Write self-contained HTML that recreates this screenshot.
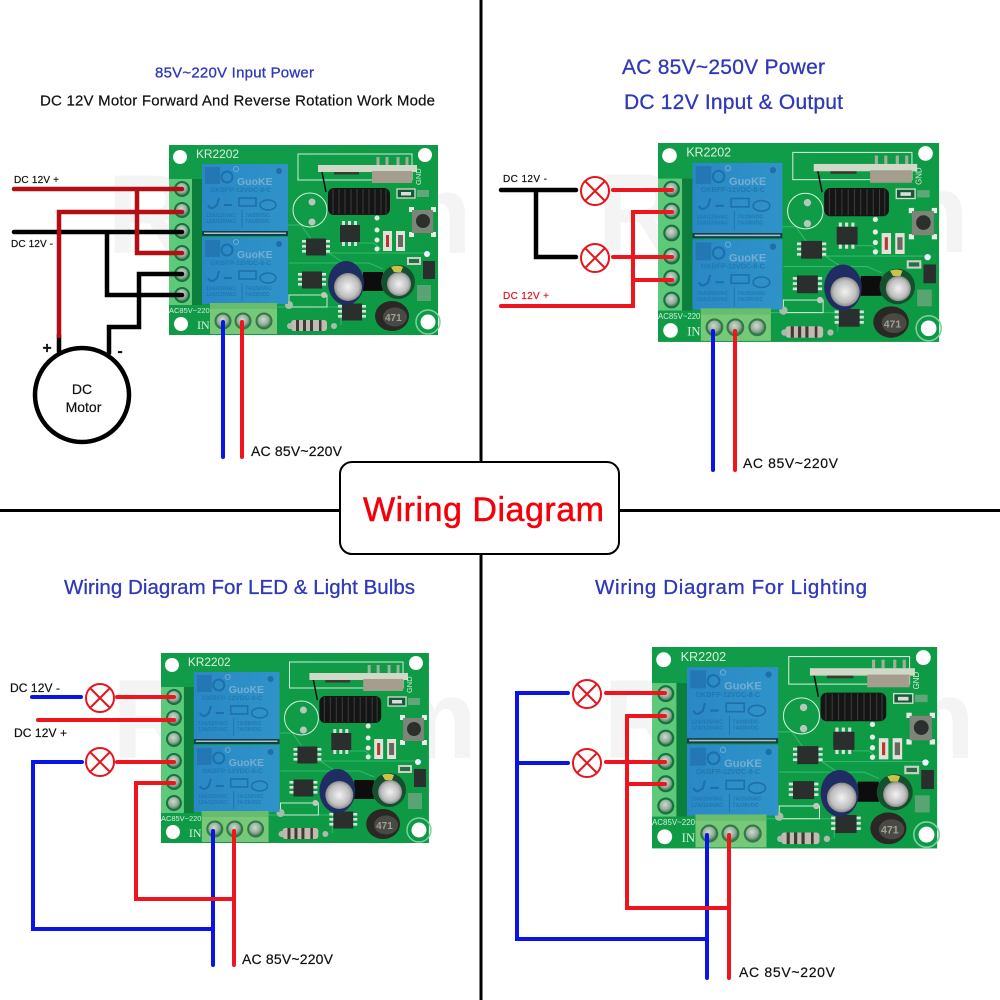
<!DOCTYPE html>
<html><head><meta charset="utf-8"><style>
html,body{margin:0;padding:0;background:#fff}
svg{display:block}
text{font-family:"Liberation Sans",sans-serif}
.b{fill:#2f39b8;stroke:#2f39b8;stroke-width:.3}
.k{fill:#111;stroke:#111;stroke-width:.2}
.w{fill:none;stroke-linecap:round;stroke-linejoin:miter}
.dr{stroke:#b50d14;stroke-width:4.5}
.bk{stroke:#000;stroke-width:4.5}
.rd{stroke:#f0141e;stroke-width:4}
.bl{stroke:#0a14e6;stroke-width:4}
.wm{fill:#f4f4f4;font-size:112px;font-weight:bold}
.bt{fill:#dcefdf;font-size:12px}
.gk{fill:#74aed0;font-size:10.500px;font-weight:bold}
.rt{fill:#2279b0;font-size:6.800px;font-weight:bold}
.rs{fill:#2279b0;font-size:5.200px;font-weight:bold}
</style></head><body>
<svg width="1000" height="1000" viewBox="0 0 1000 1000" xmlns="http://www.w3.org/2000/svg">
<defs>
<radialGradient id="sc" cx=".45" cy=".4" r=".6"><stop offset="0" stop-color="#ccdccc"/><stop offset=".6" stop-color="#93ab9a"/><stop offset="1" stop-color="#2f6a42"/></radialGradient>
<radialGradient id="cap" cx=".5" cy=".5" r=".5"><stop offset="0" stop-color="#f2f2f2"/><stop offset=".75" stop-color="#bdbdbd"/><stop offset="1" stop-color="#8a8a8a"/></radialGradient>
<linearGradient id="pcb" x1="0" y1="0" x2="1" y2="1"><stop offset="0" stop-color="#119c49"/><stop offset="1" stop-color="#0d9a44"/></linearGradient>
<linearGradient id="rl" x1="0" y1="0" x2="1" y2="0"><stop offset="0" stop-color="#2a88c6"/><stop offset="1" stop-color="#2f93c9"/></linearGradient>
<g id="chip"><rect x="-10" y="-8.500" width="20" height="17" fill="#2a2f2d"/><g fill="#d8e0dc"><rect x="-14" y="-7" width="4" height="2.600"/><rect x="-14" y="-2" width="4" height="2.600"/><rect x="-14" y="3" width="4" height="2.600"/><rect x="10" y="-7" width="4" height="2.600"/><rect x="10" y="-2" width="4" height="2.600"/><rect x="10" y="3" width="4" height="2.600"/></g></g>
<g id="rly"><rect x="0" y="0" width="86" height="67" fill="url(#rl)"/>
<rect x="3" y="3" width="15" height="17" fill="#2378b4"/><circle cx="25" cy="13" r="5.500" fill="none" stroke="#1f6fa8" stroke-width="2"/><circle cx="34" cy="5" r="2.500" fill="none" stroke="#68add3" stroke-width="1"/>
<circle cx="77" cy="7" r="3" fill="#1f6fa8"/>
<path d="M6 41q3 6 9 0l2-7M22 41h8" fill="none" stroke="#1f6fa8" stroke-width="2"/>
<rect x="37" y="34" width="17" height="8" fill="none" stroke="#1f6fa8" stroke-width="1.500"/><ellipse cx="66" cy="41" rx="8" ry="5" fill="none" stroke="#1f6fa8" stroke-width="1.500"/>
<path d="M40 46V64" stroke="#1f6fa8" stroke-width=".8"/></g>
<symbol id="board" viewBox="0 0 269 190" width="269" height="190" overflow="visible">
<rect x="0" y="0" width="269" height="190" fill="url(#pcb)"/>
<circle cx="11" cy="12" r="7" fill="#fff"/><circle cx="256" cy="10" r="7" fill="#fff"/><circle cx="12" cy="179" r="7" fill="#fff"/>
<circle cx="259" cy="177" r="12" fill="none" stroke="#7fd0a0" stroke-width="1.500"/><circle cx="259" cy="177" r="7.500" fill="#fff"/>
<path d="M118 80H132L152 108H262M120 118H200L214 124M90 162H172V180M160 108L175 118M190 98H205L212 104" fill="none" stroke="#34b86f" stroke-width="1"/>
<rect x="129" y="9" width="114" height="26" fill="none" stroke="#cfecd9" stroke-width="1"/>
<g fill="#9fb09c"><rect x="207.500" y="12" width="3" height="8"/><rect x="216.500" y="12" width="3" height="8"/><rect x="227.500" y="12" width="3" height="8"/><rect x="236.500" y="12" width="3" height="8"/></g>
<rect x="149" y="20" width="99" height="7" fill="#cfd9c6"/>
<rect x="165" y="27" width="25" height="2.500" fill="#3a3a34"/>
<rect x="203" y="26" width="40" height="12" fill="#a59e8e"/>
<path d="M153 27L157 47" stroke="#111" stroke-width="1.500"/>
<rect x="159" y="43" width="62" height="27" rx="6" fill="#151515"/>
<g stroke="#3d3d3d" stroke-width="1"><path d="M164 44V69M170 44V69M176 44V69M182 44V69M188 44V69M194 44V69M200 44V69M206 44V69M212 44V69M217 44V69"/></g>
<circle cx="141" cy="65" r="17" fill="none" stroke="#d6f0df" stroke-width="1"/><circle cx="143" cy="57" r="3.500" fill="#b7c7bb"/><circle cx="143" cy="77" r="3.500" fill="#b7c7bb"/>
<rect x="228" y="44" width="18" height="9" fill="#155b35" stroke="#d2ddd2" stroke-width="1.300"/><rect x="232" y="47" width="10" height="3.500" fill="#dcdcdc"/><rect x="248" y="45" width="12" height="7" fill="#5fa678"/>
<g fill="#e6ece6"><rect x="240" y="62" width="5" height="5"/><rect x="262" y="62" width="5" height="5"/><rect x="240" y="87" width="5" height="5"/><rect x="262" y="87" width="5" height="5"/></g>
<rect x="243" y="65" width="21" height="23" fill="#7d8478"/><circle cx="254" cy="76" r="7" fill="#2c302d"/>
<g fill="#d8e0dc"><rect x="173" y="76" width="3" height="4"/><rect x="179" y="76" width="3" height="4"/><rect x="185" y="76" width="3" height="4"/><rect x="173" y="97" width="3" height="4"/><rect x="179" y="97" width="3" height="4"/><rect x="185" y="97" width="3" height="4"/></g>
<rect x="171" y="80" width="20" height="17" fill="#2a2f2d"/>
<use href="#chip" x="147" y="102"/>
<g fill="#e2ece4"><circle cx="208" cy="73" r="2.500"/><circle cx="208" cy="85" r="2.500"/><circle cx="208" cy="95" r="2.500"/><circle cx="208" cy="104" r="2.500"/></g>
<rect x="214" y="86" width="9" height="20" fill="#dfe3da"/><rect x="217" y="90" width="3" height="12" fill="#b8382e"/>
<rect x="227" y="86" width="9" height="20" fill="#dfe3da"/><rect x="229" y="90" width="5" height="12" fill="#6b665e"/>
<rect x="254" y="116" width="12" height="18" fill="#2a2f2d"/><rect x="238" y="112" width="14" height="8" fill="#c9d2c4"/><rect x="240" y="114" width="10" height="4" fill="#2c6b47"/>
<rect x="248" y="140" width="14" height="16" fill="#5aa473"/><circle cx="258" cy="109" r="3" fill="#eef"/>
<use href="#chip" x="143" y="135"/><use href="#chip" x="183" y="167"/>
<rect x="194" y="127" width="20" height="19" fill="#0d0d0d"/>
<ellipse cx="177" cy="138" rx="18" ry="22" fill="#1f2d63"/><ellipse cx="179" cy="142" rx="14" ry="14" fill="url(#cap)"/>
<circle cx="229" cy="137" r="17" fill="#14502e"/><path d="M222 122a16 16 0 0 1 12 0l-2 5h-7z" fill="#c9c34a"/><circle cx="230" cy="139" r="12" fill="url(#cap)"/>
<ellipse cx="223" cy="171" rx="17" ry="15" fill="#2a2724"/><ellipse cx="226" cy="172" rx="12" ry="9.500" fill="#4a4a45"/><text x="216" y="176" font-size="10" font-weight="bold" fill="#a0a098" style="font-family:'Liberation Sans',sans-serif">471</text>
<rect x="122" y="175" width="36" height="11" rx="3" fill="#c2bbb0"/><g fill="#3e3a37"><rect x="127" y="175" width="3" height="11"/><rect x="134" y="175" width="3" height="11"/><rect x="141" y="175" width="3" height="11"/><rect x="150" y="175" width="2.500" height="11"/></g><circle cx="121" cy="181" r="3" fill="#aebaaf"/><circle cx="165" cy="181" r="3" fill="#aebaaf"/>
<rect x="120" y="150" width="38" height="12" fill="none" stroke="#cfe9d8" stroke-width="1"/><circle cx="120" cy="160" r="4" fill="#a8bdaa"/><circle cx="155" cy="150" r="3" fill="#c1c8bf"/>
<rect x="23" y="34" width="10" height="126" fill="#0d7f3c"/>
<use href="#rly" x="33" y="19"/><use href="#rly" x="33" y="92"/>
<rect x="33" y="86" width="86" height="5" fill="#123f4a"/><rect x="35" y="87.500" width="82" height="1.500" fill="#a9bdc4"/>
<rect x="0" y="34" width="23" height="126" fill="#5ec97b"/>
<g stroke="#13743d" stroke-width="2" fill="url(#sc)"><circle cx="13" cy="44" r="7"/><circle cx="13" cy="65" r="7"/><circle cx="13" cy="86" r="7"/><circle cx="13" cy="108" r="7"/><circle cx="13" cy="129" r="7"/><circle cx="13" cy="150" r="7"/></g>
<rect x="41" y="158" width="67" height="31" fill="#77c878"/><rect x="41" y="158" width="67" height="6" fill="#68bd6c"/>
<g stroke="#2f7a45" stroke-width="2" fill="url(#sc)"><circle cx="54" cy="176" r="7.500"/><circle cx="74" cy="176" r="7.500"/><circle cx="95" cy="176" r="7.500"/></g>
</symbol>
</defs>
<rect width="1000" height="1000" fill="#fff"/>

<text class="wm" x="107" y="253" textLength="365" lengthAdjust="spacing">Rilem</text>
<text class="wm" x="597" y="252" textLength="372" lengthAdjust="spacing">Rilem</text>
<text class="wm" x="112" y="758" textLength="365" lengthAdjust="spacing">Rilem</text>
<text class="wm" x="603" y="758" textLength="372" lengthAdjust="spacing">Rilem</text>

<path d="M481 0V462M481 554V1000M0 510.500H340M620 510.500H1000" stroke="#000" stroke-width="3" fill="none"/>
<rect x="340" y="462" width="279" height="92" rx="12" fill="#fff" stroke="#000" stroke-width="2"/>
<text x="363" y="521" font-size="34" fill="#f5000a" stroke="#f5000a" stroke-width=".5" textLength="241" lengthAdjust="spacing">Wiring Diagram</text>

<text class="b" x="155" y="77.500" font-size="15" textLength="159" lengthAdjust="spacing">85V~220V Input Power</text>
<text class="k" x="40" y="105.500" font-size="15" textLength="395" lengthAdjust="spacing">DC 12V Motor Forward And Reverse Rotation Work Mode</text>
<text class="b" x="622" y="74" font-size="21" textLength="203" lengthAdjust="spacing">AC 85V~250V Power</text>
<text class="b" x="624" y="109" font-size="21" textLength="219" lengthAdjust="spacing">DC 12V Input &amp; Output</text>
<text class="b" x="64" y="594" font-size="20.500" textLength="351" lengthAdjust="spacing">Wiring Diagram For LED &amp; Light Bulbs</text>
<text class="b" x="595" y="594" font-size="20.500" textLength="272" lengthAdjust="spacing">Wiring Diagram For Lighting</text>

<!-- TL board -->
<g transform="translate(169 145)"><use href="#board"/>
<text class="bt" x="27" y="13" textLength="43" lengthAdjust="spacing">KR2202</text><text class="bt" x="28" y="184" style="font-family:'Liberation Serif',serif">IN</text><text x="0" y="168" font-size="7.500" fill="#d8ecd8">AC85V~220</text>
<text class="gk" x="68" y="40">GuoKE</text><text class="rt" x="41" y="47">GKBFP-12VDC-8-C</text><text class="rs" x="37" y="72">12A/125VAC</text><text class="rs" x="76" y="72">7A/28VDC</text><text class="rs" x="37" y="78">12A/125VAC</text><text class="rs" x="76" y="78">7A/28VDC</text>
<text class="gk" x="68" y="113">GuoKE</text><text class="rt" x="41" y="120">GKBFP-12VDC-8-C</text><text class="rs" x="37" y="145">10A/250VAC</text><text class="rs" x="76" y="145">7A/250VAC</text><text class="rs" x="37" y="151">12A/125VAC</text><text class="rs" x="76" y="151">7A/28VDC</text>
<text x="252" y="40" font-size="7.500" fill="#d8ecd8" transform="rotate(-90 252 40)">GND</text></g>
<!-- TR board -->
<g transform="translate(658 143) scale(1.045 1.047)"><use href="#board"/>
<text class="bt" x="27" y="13" textLength="43" lengthAdjust="spacing">KR2202</text><text class="bt" x="28" y="184" style="font-family:'Liberation Serif',serif">IN</text><text x="0" y="168" font-size="7.500" fill="#d8ecd8">AC85V~220</text>
<text class="gk" x="68" y="40">GuoKE</text><text class="rt" x="41" y="47">GKBFP-12VDC-8-C</text><text class="rs" x="37" y="72">12A/125VAC</text><text class="rs" x="76" y="72">7A/28VDC</text><text class="rs" x="37" y="78">12A/125VAC</text><text class="rs" x="76" y="78">7A/28VDC</text>
<text class="gk" x="68" y="113">GuoKE</text><text class="rt" x="41" y="120">GKBFP-12VDC-8-C</text><text class="rs" x="37" y="145">10A/250VAC</text><text class="rs" x="76" y="145">7A/250VAC</text><text class="rs" x="37" y="151">12A/125VAC</text><text class="rs" x="76" y="151">7A/28VDC</text>
<text x="252" y="40" font-size="7.500" fill="#d8ecd8" transform="rotate(-90 252 40)">GND</text></g>
<!-- BL board -->
<g transform="translate(161 653) scale(.996 1)"><use href="#board"/>
<text class="bt" x="27" y="13" textLength="43" lengthAdjust="spacing">KR2202</text><text class="bt" x="28" y="184" style="font-family:'Liberation Serif',serif">IN</text><text x="0" y="168" font-size="7.500" fill="#d8ecd8">AC85V~220</text>
<text class="gk" x="68" y="40">GuoKE</text><text class="rt" x="41" y="47">GKBFP-12VDC-8-C</text><text class="rs" x="37" y="72">12A/125VAC</text><text class="rs" x="76" y="72">7A/28VDC</text><text class="rs" x="37" y="78">12A/125VAC</text><text class="rs" x="76" y="78">7A/28VDC</text>
<text class="gk" x="68" y="113">GuoKE</text><text class="rt" x="41" y="120">GKBFP-12VDC-8-C</text><text class="rs" x="37" y="145">10A/250VAC</text><text class="rs" x="76" y="145">7A/250VAC</text><text class="rs" x="37" y="151">12A/125VAC</text><text class="rs" x="76" y="151">7A/28VDC</text>
<text x="252" y="40" font-size="7.500" fill="#d8ecd8" transform="rotate(-90 252 40)">GND</text></g>
<!-- BR board -->
<g transform="translate(652 647) scale(1.06 1.06)"><use href="#board"/>
<text class="bt" x="27" y="13" textLength="43" lengthAdjust="spacing">KR2202</text><text class="bt" x="28" y="184" style="font-family:'Liberation Serif',serif">IN</text><text x="0" y="168" font-size="7.500" fill="#d8ecd8">AC85V~220</text>
<text class="gk" x="68" y="40">GuoKE</text><text class="rt" x="41" y="47">GKBFP-12VDC-8-C</text><text class="rs" x="37" y="72">12A/125VAC</text><text class="rs" x="76" y="72">7A/28VDC</text><text class="rs" x="37" y="78">12A/125VAC</text><text class="rs" x="76" y="78">7A/28VDC</text>
<text class="gk" x="68" y="113">GuoKE</text><text class="rt" x="41" y="120">GKBFP-12VDC-8-C</text><text class="rs" x="37" y="145">10A/250VAC</text><text class="rs" x="76" y="145">7A/250VAC</text><text class="rs" x="37" y="151">12A/125VAC</text><text class="rs" x="76" y="151">7A/28VDC</text>
<text x="252" y="40" font-size="7.500" fill="#d8ecd8" transform="rotate(-90 252 40)">GND</text></g>

<!-- TL wires -->
<path class="w bk" d="M14 232H182M107 232V295H182M182 274H139V327H109V353"/>
<path class="w bk" d="M59 335V352"/>
<path class="w dr" d="M14 189H182M137 189V253H182M182 212H59V336"/>
<path class="w bl" d="M223 322V457"/><path class="w rd" d="M242 322V457"/>
<circle cx="82" cy="395" r="47" fill="#fff" stroke="#000" stroke-width="4.500"/>
<text class="k" x="82" y="394" font-size="14" text-anchor="middle">DC</text>
<text class="k" x="83.500" y="412" font-size="14" text-anchor="middle">Motor</text>
<text class="k" x="47" y="353" font-size="16" font-weight="bold" text-anchor="middle">+</text>
<text class="k" x="120" y="356" font-size="16" font-weight="bold" text-anchor="middle">-</text>
<text class="k" x="14" y="183" font-size="10" textLength="45" lengthAdjust="spacing">DC 12V +</text>
<text class="k" x="11" y="247" font-size="10" textLength="42" lengthAdjust="spacing">DC 12V -</text>
<text class="k" x="251" y="456" font-size="14" textLength="91" lengthAdjust="spacing">AC 85V~220V</text>

<!-- TR wires -->
<path class="w bk" d="M501 190H576M536 190V257H576"/>
<path class="w rd" d="M613 190H672M613 257H672M672 212H633V306H501M633 280H672"/>
<path class="w bl" d="M713 331V470"/><path class="w rd" d="M735 331V470"/>
<g fill="none" stroke="#e8141c" stroke-width="2"><circle cx="595" cy="191" r="14"/><path d="M585 181L605 201M605 181L585 201"/><circle cx="595" cy="258" r="14"/><path d="M585 248L605 268M605 248L585 268"/></g>
<text class="k" x="503" y="182" font-size="10" textLength="44" lengthAdjust="spacing">DC 12V -</text>
<text x="503" y="299" font-size="10" fill="#e8141c" stroke="#e8141c" stroke-width=".2" textLength="46" lengthAdjust="spacing">DC 12V +</text>
<text class="k" x="743" y="468" font-size="14" textLength="95" lengthAdjust="spacing">AC 85V~220V</text>

<!-- BL wires -->
<path class="w bl" d="M32 697H81M82 762H33V929H213M213 831V965"/>
<path class="w rd" d="M117 697H174M38 720H174M117 762H174M174 783H136V899H234M234 831V965"/>
<g fill="none" stroke="#e8141c" stroke-width="2"><circle cx="100" cy="698" r="14"/><path d="M90 688L110 708M110 688L90 708"/><circle cx="100" cy="762" r="14"/><path d="M90 752L110 772M110 752L90 772"/></g>
<text class="k" x="10" y="692" font-size="12" textLength="50" lengthAdjust="spacing">DC 12V -</text>
<text class="k" x="14" y="737" font-size="12" textLength="53" lengthAdjust="spacing">DC 12V +</text>
<text class="k" x="242" y="964" font-size="14" textLength="91" lengthAdjust="spacing">AC 85V~220V</text>

<!-- BR wires -->
<path class="w bl" d="M568 693H517V939H707M517 763H568M707 835V978"/>
<path class="w rd" d="M606 693H665M606 762H665M665 716H627V908H729M627 784H665M729 835V978"/>
<g fill="none" stroke="#e8141c" stroke-width="2"><circle cx="587" cy="694" r="14"/><path d="M577 684L597 704M597 684L577 704"/><circle cx="587" cy="763" r="14"/><path d="M577 753L597 773M597 753L577 773"/></g>
<text class="k" x="739" y="977" font-size="14" textLength="96" lengthAdjust="spacing">AC 85V~220V</text>
</svg>
</body></html>
